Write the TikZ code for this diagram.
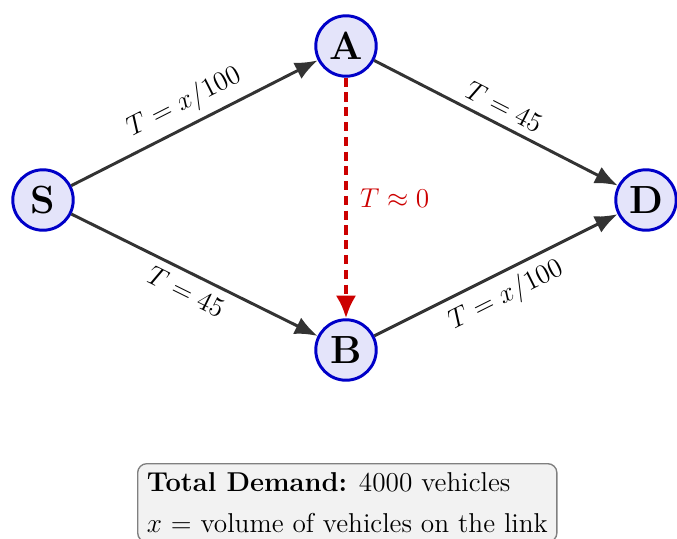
\documentclass[tikz,border=0pt]{standalone}
\usepackage{amsmath}
\usetikzlibrary{arrows.meta}
\definecolor{nodeblue}{RGB}{0,0,200}
\definecolor{nodefill}{RGB}{228,228,250}
\definecolor{edgegray}{RGB}{51,51,51}
\definecolor{dashred}{RGB}{204,0,0}
\tikzset{
  netnode/.style={circle, draw=nodeblue, fill=nodefill, line width=1.3pt,
    minimum size=26.6pt, inner sep=0pt, font=\LARGE\bfseries},
  link/.style={draw=edgegray, line width=1.3pt, -{Latex[length=10pt,width=8pt]}},
  shortcut/.style={draw=dashred, line width=1.8pt, dash pattern=on 4pt off 2.5pt,
    -{Latex[length=10pt,width=9pt]}},
  lbl/.style={font=\large, text=black},
  infobox/.style={draw=gray, fill=gray!10, rounded corners=4pt, line width=0.6pt,
    align=left, inner sep=4pt, font=\large}
}
\begin{document}
\begin{tikzpicture}[x=0.44pt,y=-0.44pt]
\useasboundingbox (0,0) rectangle (677,538);
\node[netnode] (S) at (43,200) {S};
\node[netnode] (A) at (346,46) {A};
\node[netnode] (B) at (346,350) {B};
\node[netnode] (D) at (646,200) {D};
\draw[link] (S) -- node[lbl, sloped, above] {$T = x/100$} (A);
\draw[link] (A) -- node[lbl, sloped, above] {$T = 45$} (D);
\draw[link] (S) -- node[lbl, sloped, below] {$T = 45$} (B);
\draw[link] (B) -- node[lbl, sloped, below] {$T = x/100$} (D);
\draw[shortcut] (A) -- node[lbl, right, xshift=2pt, text=dashred] {$T \approx 0$} (B);
\node[infobox, anchor=north west] (box) at (137,463)
  {\textbf{Total Demand:} 4000 vehicles\\[4pt] $x$ = volume of vehicles on the link};
\end{tikzpicture}
\end{document}
